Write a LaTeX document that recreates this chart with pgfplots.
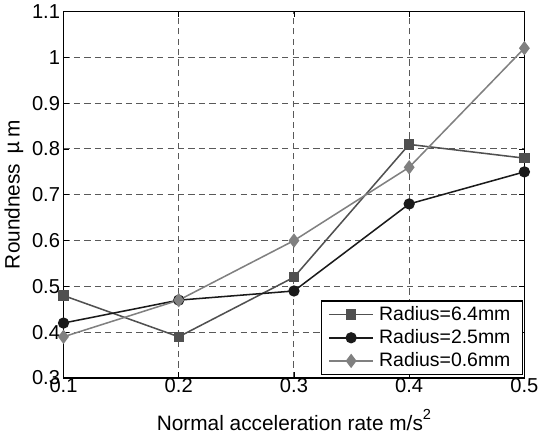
\documentclass[border=0pt]{standalone}
\usepackage{fontspec}
\setmainfont{Liberation Sans}
\newfontfamily\cjk{Noto Sans CJK JP}
\usepackage{pgfplots}
\pgfplotsset{compat=1.18}
\definecolor{cSq}{HTML}{505050}
\definecolor{cCi}{HTML}{1A1A1A}
\definecolor{cDi}{HTML}{808080}
\begin{document}
\begin{tikzpicture}
\begin{axis}[
  scale only axis,
  width=332pt, height=264pt,
  xmin=0.1, xmax=0.5, ymin=0.3, ymax=1.1,
  xtick={0.1,0.2,0.3,0.4,0.5},
  ytick={0.3,0.4,...,1.1},
  yticklabels={0.3,0.4,0.5,0.6,0.7,0.8,0.9,1,1.1},
  xticklabels={0.1,0.2,0.3,0.4,0.5},
  grid=major,
  grid style={dashed, black!65, line width=0.7pt, dash pattern=on 4.5pt off 3pt},
  axis line style={black, line width=0.9pt},
  tick align=inside,
  tick pos=both,
  major tick length=4pt,
  tick style={black, line width=0.6pt},
  ticklabel style={font=\fontsize{14.5}{16}\selectfont},
  /pgf/number format/assume math mode=true,
  xticklabel style={yshift=3pt},
  yticklabel style={xshift=1pt},
  xlabel={Normal acceleration rate m/s\raisebox{1ex}{\fontsize{10.5}{11}\selectfont 2}},
  ylabel={Roundness \,{\cjk μ}\,m},
  xlabel style={font=\fontsize{15}{17}\selectfont, yshift=-5pt},
  ylabel style={font=\fontsize{15}{17}\selectfont, yshift=-1pt},
  legend style={
    at={(0.998,0.008)}, anchor=south east,
    font=\fontsize{14}{16}\selectfont,
    draw=black, line width=0.8pt, fill=white,
    row sep=1pt, inner xsep=5pt, inner ysep=2pt,
    nodes={inner xsep=4pt},
  },
  legend cell align=left,
  legend image code/.code={%
    \draw[mark repeat=2,mark phase=2,#1]
      plot coordinates {(0cm,0cm)(0.55cm,0cm)(1.1cm,0cm)};},
  every axis plot/.append style={line width=1.1pt},
]
\addplot[color=cSq, mark=square*, mark size=3.2pt, mark options={solid}]
  coordinates {(0.1,0.48)(0.2,0.39)(0.3,0.52)(0.4,0.81)(0.5,0.78)};
\addlegendentry{Radius=6.4mm}
\addplot[color=cCi, mark=*, mark size=3.5pt]
  coordinates {(0.1,0.42)(0.2,0.47)(0.3,0.49)(0.4,0.68)(0.5,0.75)};
\addlegendentry{Radius=2.5mm}
\addplot[color=cDi, mark=diamond*, mark size=4.3pt]
  coordinates {(0.1,0.39)(0.2,0.47)(0.3,0.60)(0.4,0.76)(0.5,1.02)};
\addlegendentry{Radius=0.6mm}
\end{axis}
\end{tikzpicture}
\end{document}
